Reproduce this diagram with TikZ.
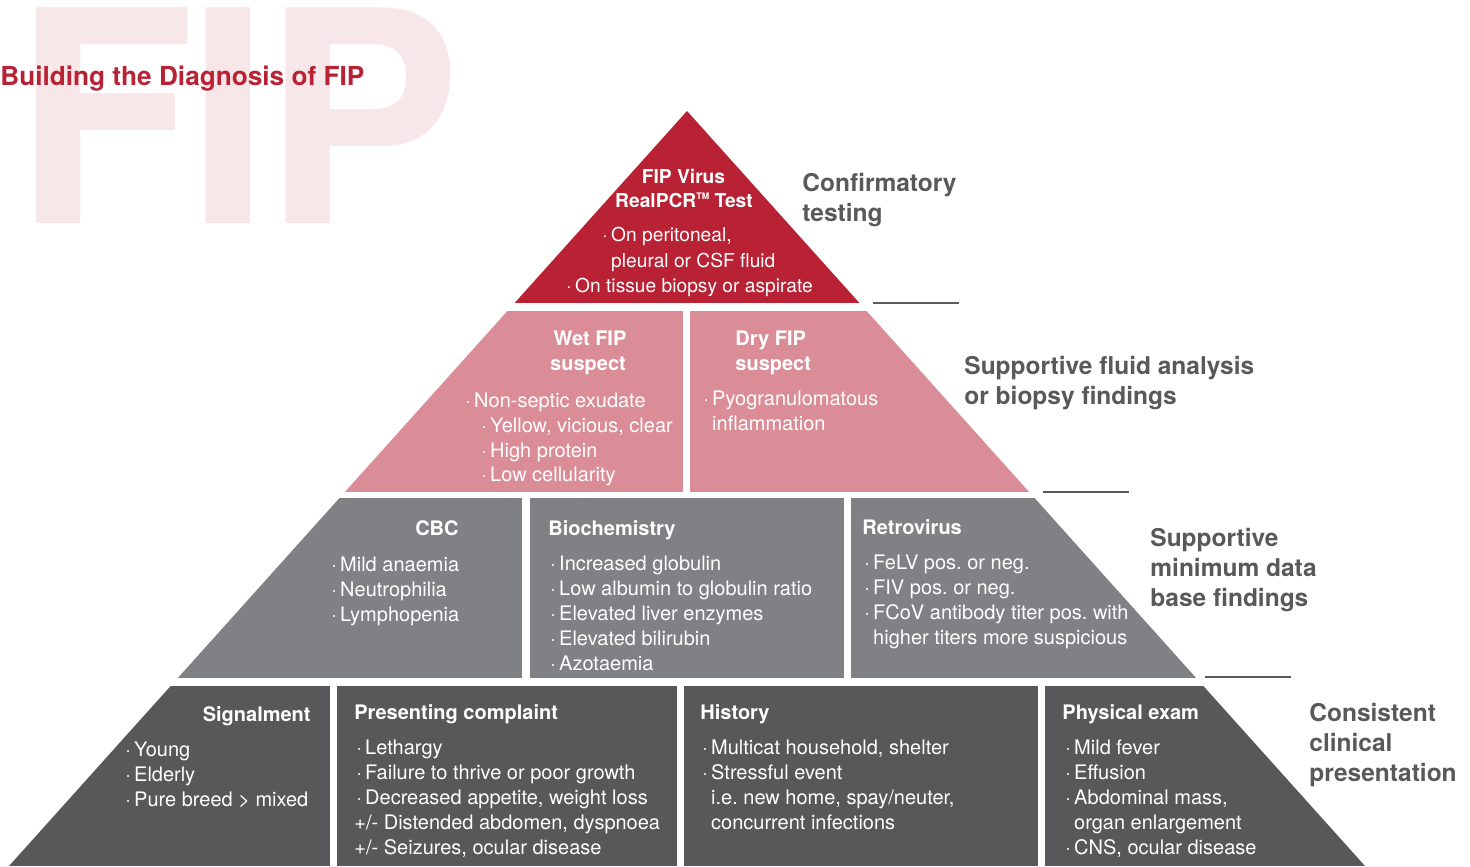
\documentclass[tikz,border=0pt]{standalone}
\usepackage{fontspec}
\setmainfont{TeX Gyre Heros}
\frenchspacing
\definecolor{fipred}{HTML}{B92234}
\definecolor{fippink}{HTML}{DB8D97}
\definecolor{fipgray}{HTML}{808184}
\definecolor{fipdark}{HTML}{58585A}
\definecolor{fipshade}{HTML}{F8E7E9}
\definecolor{fiplabel}{HTML}{58595B}
\newcommand{\dotb}{\makebox[4.4pt][l]{·}}
\newcommand{\nob}{\hspace*{4.4pt}}
\newcommand{\tm}{\raisebox{3.6pt}{\fontsize{4.5pt}{5pt}\selectfont TM}}
\tikzset{
  entry/.style={anchor=base west, inner sep=0pt, text=white, font=\fontsize{10pt}{12pt}\selectfont},
  redentry/.style={entry, font=\fontsize{9.6pt}{12pt}\selectfont},
  head/.style={inner sep=0pt, text=white, font=\fontsize{10pt}{12pt}\selectfont\bfseries},
  tier/.style={anchor=north west, inner sep=0pt, align=left, text=fiplabel, font=\fontsize{12.25pt}{15pt}\selectfont\bfseries},
  rule/.style={draw=fiplabel, line width=0.7pt}
}
\begin{document}
\begin{tikzpicture}[x=0.5pt, y=-0.5pt]
\useasboundingbox (0,0) rectangle (1470,866);
% background lettering and title
\node[anchor=base west, inner sep=0pt, text=fipshade, font=\fontsize{148pt}{148pt}\selectfont\bfseries] (mark) at (14,223) {F\kern-4pt I\kern-3pt P};
\node[anchor=base west, inner sep=0pt, text=fipred, font=\fontsize{13.1pt}{15pt}\selectfont\bfseries] (title) at (0,86) {Building the Diagnosis of FIP};

% pyramid levels
\begin{scope}
  \clip (687,111) -- (1365,866) -- (9,866) -- cycle;
  \foreach \xa/\ya/\xb/\yb/\col in {0/0/1470/303/fipred, 0/311/683/492/fippink, 690/311/1470/492/fippink,
      0/498/522/678/fipgray, 530/498/844/678/fipgray, 851/498/1470/678/fipgray,
      0/686/330/866/fipdark, 337/686/677/866/fipdark, 684/686/1038/866/fipdark, 1045/686/1470/866/fipdark}
    \fill[\col] (\xa,\ya) rectangle (\xb,\yb);
\end{scope}

% rules and tier labels
\draw[rule] (873,303) -- (959,303);
\draw[rule] (1043,492) -- (1129,492);
\draw[rule] (1205,677) -- (1291,677);
\node[tier] (confirm) at (802,173) {Confirmatory\\testing};
\node[tier] (fluid) at (964,356) {Supportive fluid analysis\\or biopsy findings};
\node[tier] (minimum) at (1150,528) {Supportive\\minimum data\\base findings};
\node[tier] (clinical) at (1309,703) {Consistent\\clinical\\presentation};

% confirmatory level
\node[head, anchor=base, font=\fontsize{9.6pt}{12pt}\selectfont\bfseries] (pcr1) at (683.5,184) {FIP Virus};
\node[head, anchor=base, font=\fontsize{9.6pt}{12pt}\selectfont\bfseries] (pcr2) at (684,207) {RealPCR\tm\ Test};
\node[redentry] (pcr3) at (602,242) {\dotb On peritoneal,};
\node[redentry] (pcr4) at (602,267) {\nob pleural or CSF fluid};
\node[redentry] (pcr5) at (566,292) {\dotb On tissue biopsy or aspirate};

% fluid analysis level
\node[head, anchor=base] (wet1) at (590,345) {Wet FIP};
\node[head, anchor=base] (wet2) at (588,370) {suspect};
\foreach \x/\y/\txt [count=\i] in {465/407/{Non-septic exudate}, 481/432/{Yellow, vicious, clear}, 481/457/{High protein}, 481/481/{Low cellularity}}
  \node[entry] (wet-\i) at (\x,\y) {\dotb\txt};
\node[head, anchor=base west] (dry1) at (735,345) {Dry FIP};
\node[head, anchor=base west] (dry2) at (735,370) {suspect};
\node[entry] (dry-1) at (703,405) {\dotb Pyogranulomatous};
\node[entry] (dry-2) at (703,430) {\nob inflammation};

% minimum data base level
\node[head, anchor=base east] (cbc) at (459,535) {CBC};
\foreach \y/\txt [count=\i] in {571/{Mild anaemia}, 596/{Neutrophilia}, 621/{Lymphopenia}}
  \node[entry] (cbc-\i) at (331,\y) {\dotb\txt};
\node[head, anchor=base west] (chem) at (548,535) {Biochemistry};
\foreach \y/\txt [count=\i] in {570/{Increased globulin}, 595/{Low albumin to globulin ratio}, 620/{Elevated liver enzymes}, 645/{Elevated bilirubin}, 670/{Azotaemia}}
  \node[entry] (chem-\i) at (550,\y) {\dotb\txt};
\node[head, anchor=base west] (retro) at (862,534) {Retrovirus};
\foreach \y/\txt [count=\i] in {569/{\dotb FeLV pos. or neg.}, 594/{\dotb FIV pos. or neg.}, 619/{\dotb FCoV antibody titer pos. with}, 644/{\nob higher titers more suspicious}}
  \node[entry] (retro-\i) at (864,\y) {\txt};

% clinical presentation level
\node[head, anchor=base east] (signal) at (311,721) {Signalment};
\foreach \y/\txt [count=\i] in {756/{Young}, 781/{Elderly}, 806/{Pure breed > mixed}}
  \node[entry] (signal-\i) at (125,\y) {\dotb\txt};
\node[head, anchor=base west] (complaint) at (354,719) {Presenting complaint};
\foreach \x/\y/\txt [count=\i] in {356/754/{\dotb Lethargy}, 356/779/{\dotb Failure to thrive or poor growth}, 356/804/{\dotb Decreased appetite, weight loss}, 354/829/{+/- Distended abdomen, dyspnoea}, 354/854/{+/- Seizures, ocular disease}}
  \node[entry] (complaint-\i) at (\x,\y) {\txt};
\node[head, anchor=base west] (history) at (700,719) {History};
\foreach \y/\txt [count=\i] in {754/{\dotb Multicat household, shelter}, 779/{\dotb Stressful event}, 804/{\nob i.e. new home, spay/neuter,}, 829/{\nob concurrent infections}}
  \node[entry] (history-\i) at (702,\y) {\txt};
\node[head, anchor=base west] (exam) at (1062,719) {Physical exam};
\foreach \y/\txt [count=\i] in {754/{\dotb Mild fever}, 779/{\dotb Effusion}, 804/{\dotb Abdominal mass,}, 829/{\nob organ enlargement}, 854/{\dotb CNS, ocular disease}}
  \node[entry] (exam-\i) at (1065,\y) {\txt};
\end{tikzpicture}
\end{document}
